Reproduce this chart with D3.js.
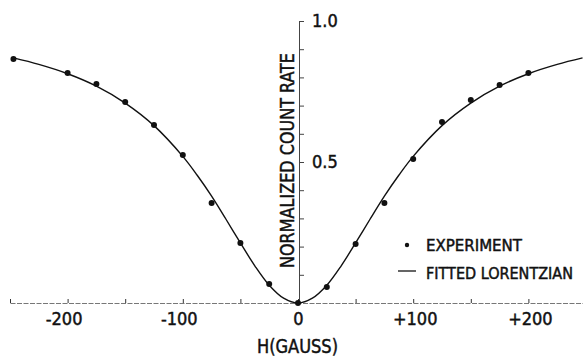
<!DOCTYPE html>
<html>
<head>
<meta charset="utf-8">
<script src="https://cdn.jsdelivr.net/npm/d3@7"></script>
<style>
  html, body { margin: 0; padding: 0; background: #fff; }
  svg { display: block; }
  text { font-family: "DejaVu Sans Condensed", "DejaVu Sans", sans-serif; font-stretch: condensed; fill: #111; stroke: #111; stroke-width: 0.45px; }
</style>
</head>
<body>
<svg id="chart" width="583" height="357"></svg>
<script>
// Experimental points (field H in gauss, normalized count rate)
const expH    = [-247, -200, -175, -150, -125, -100, -75, -50, -25, 0, 25, 50, 75, 100, 125, 150, 175, 200];
const expRate = [0.865, 0.816, 0.777, 0.713, 0.631, 0.525, 0.355, 0.213, 0.067, 0.0, 0.057, 0.209, 0.355, 0.511, 0.642, 0.720, 0.773, 0.816];

// Fitted Lorentzian curve
const fitH    = [-247, -225, -200, -175, -150, -125, -100, -87.5, -75, -62.5, -50, -37.5, -25, -12.5, 0, 12.5, 25, 37.5, 50, 62.5, 75, 87.5, 100, 125, 150, 175, 200, 225, 247];
const fitRate = [0.869, 0.846, 0.813, 0.769, 0.709, 0.629, 0.520, 0.453, 0.379, 0.297, 0.213, 0.132, 0.063, 0.017, 0.0, 0.017, 0.063, 0.132, 0.213, 0.297, 0.379, 0.453, 0.520, 0.629, 0.709, 0.769, 0.813, 0.846, 0.869];

// Axis ticks and labels
const xTicks = [-250, -200, -150, -100, -50, 0, 50, 100, 150, 200, 250];
const xLabels = { "-200": "-200", "-100": "-100", "0": "0", "100": "+100", "200": "+200" };
const yTicks = [0.1, 0.2, 0.3, 0.4, 0.5, 0.6, 0.7, 0.8, 0.9, 1.0];
const yLabels = { "0.5": "0.5", "1": "1.0" };

const legendItems = ["EXPERIMENT", "FITTED LORENTZIAN"];
const yTitle = "NORMALIZED COUNT RATE";
const xTitle = "H(GAUSS)";

const svg = d3.select("#chart");
const x = d3.scaleLinear().domain([-250, 250]).range([10, 586]);
const y = d3.scaleLinear().domain([0, 1]).range([303, 21]);

// X axis (ticks pointing up)
const xAxis = d3.axisBottom(x)
  .tickValues(xTicks)
  .tickSizeInner(-4)
  .tickSizeOuter(0)
  .tickPadding(9)
  .tickFormat(d => xLabels[String(d)] || "");
const gx = svg.append("g").attr("transform", `translate(0,${y(0)})`).call(xAxis);
gx.select(".domain").attr("stroke", "#777").attr("stroke-width", 1).attr("stroke-dasharray", "5,1.5");
gx.selectAll(".tick line").attr("stroke", "#333").attr("stroke-width", 1);
gx.selectAll(".tick text")
  .attr("font-size", 18)
  .attr("font-family", null)
  .attr("fill", null)
  .attr("dx", d => d < 0 ? -4 : (d > 0 ? 1.5 : 0));

// Y axis (ticks to the right)
const yAxis = d3.axisRight(y)
  .tickValues(yTicks)
  .tickSizeInner(5)
  .tickSizeOuter(0)
  .tickPadding(8)
  .tickFormat(d => yLabels[String(+d.toFixed(1))] || "");
const gy = svg.append("g").attr("transform", `translate(${x(0) + 1},0)`).call(yAxis);
gy.select(".domain").attr("stroke", "#444").attr("stroke-width", 1);
gy.selectAll(".tick line").attr("stroke", "#444").attr("stroke-width", 1);
gy.selectAll(".tick text").attr("font-size", 18).attr("font-family", null).attr("fill", null);

// Fitted curve
const line = d3.line().x((d, i) => x(fitH[i])).y((d, i) => y(fitRate[i])).curve(d3.curveCatmullRom);
svg.append("path")
  .datum(fitH)
  .attr("d", line)
  .attr("fill", "none")
  .attr("stroke", "#111")
  .attr("stroke-width", 1.4);

// Experimental points
svg.append("g").selectAll("circle")
  .data(expH)
  .join("circle")
  .attr("cx", (d) => x(d))
  .attr("cy", (d, i) => y(expRate[i]))
  .attr("r", 3)
  .attr("fill", "#111");

// Y title
svg.append("text")
  .attr("transform", `translate(294,${(53 + 268) / 2}) rotate(-90)`)
  .attr("text-anchor", "middle")
  .attr("font-size", 19)
  .attr("textLength", 215)
  .attr("lengthAdjust", "spacingAndGlyphs")
  .text(yTitle);

// X title
svg.append("text")
  .attr("x", 297.5)
  .attr("y", 353)
  .attr("text-anchor", "middle")
  .attr("font-size", 19)
  .attr("textLength", 81)
  .attr("lengthAdjust", "spacingAndGlyphs")
  .text(xTitle);

// Legend
const lg = svg.append("g");
lg.append("circle").attr("cx", 407).attr("cy", 245).attr("r", 2.2).attr("fill", "#111");
lg.append("line").attr("x1", 398).attr("x2", 416).attr("y1", 271).attr("y2", 271)
  .attr("stroke", "#111").attr("stroke-width", 1.3);
const legendLen = [96, 147];
lg.selectAll("text.leg")
  .data(legendItems)
  .join("text")
  .attr("class", "leg")
  .attr("x", 426)
  .attr("y", (d, i) => 251 + i * 28)
  .attr("font-size", 16)
  .attr("textLength", (d, i) => legendLen[i])
  .attr("lengthAdjust", "spacingAndGlyphs")
  .text(d => d);
</script>
</body>
</html>
